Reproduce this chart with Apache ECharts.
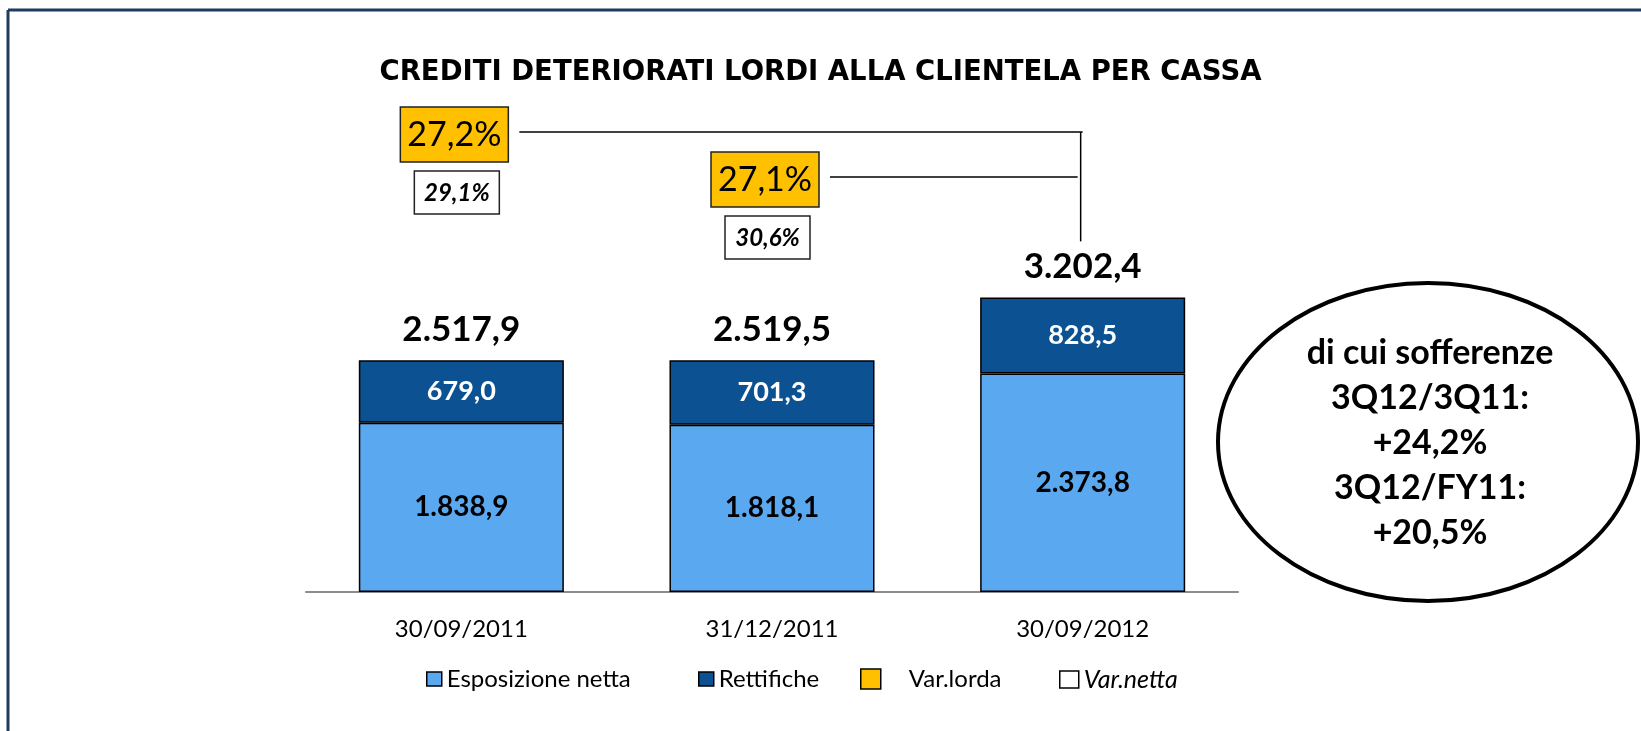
<!DOCTYPE html>
<html>
<head>
<meta charset="UTF-8">
<title>Crediti deteriorati</title>
<script src="https://cdn.jsdelivr.net/npm/echarts@6/dist/echarts.min.js"></script>
<style>
html, body { margin: 0; padding: 0; background: #fff; }
#main { width: 1641px; height: 731px; }
</style>
</head>
<body>
<div id="main"></div>
<script type="text/javascript">
// dati
var categories = ['30/09/2011', '31/12/2011', '30/09/2012'];
var esposizioneNetta = [1838.9, 1818.1, 2373.8];
var rettifiche = [679.0, 701.3, 828.5];
var totali = [2517.9, 2519.5, 3202.4];
var varLorda = ['27,2%', '27,1%'];
var varNetta = ['29,1%', '30,6%'];
var sofferenze = ['di cui sofferenze', '3Q12/3Q11:', '+24,2%', '3Q12/FY11:', '+20,5%'];

var FONT = 'Lato';

// 1838.9 -> "1.838,9"
function fmt(v) {
	var s = v.toFixed(1).split('.');
	var int = s[0].replace(/\B(?=(\d{3})+(?!\d))/g, '.');
	return int + ',' + s[1];
}

var chart = echarts.init(document.getElementById('main'));

var legendBase = {
	orient: 'horizontal',
	top: 667,
	padding: 0,
	icon: 'rect',
	selectedMode: false,
	itemStyle: { borderColor: '#000', borderWidth: 1.5, opacity: 1 },
	textStyle: { fontFamily: FONT, fontSize: 24, color: '#000' }
};

var option = {
	animation: false,
	backgroundColor: '#fff',
	title: {
		text: 'CREDITI DETERIORATI LORDI ALLA CLIENTELA PER CASSA',
		left: 'center',
		top: 54,
		textStyle: { fontFamily: 'DejaVu Sans', fontWeight: 'bold', fontSize: 27.5, color: '#000' }
	},
	legend: [
		Object.assign({}, legendBase, { data: ['Esposizione netta'], left: 426, itemWidth: 15, itemHeight: 14 }),
		Object.assign({}, legendBase, { data: ['Rettifiche'], left: 698, itemWidth: 15, itemHeight: 14 }),
		Object.assign({}, legendBase, { data: ['Var.lorda'], left: 860, itemWidth: 20, itemHeight: 20,
			textStyle: { fontFamily: FONT, fontSize: 24, color: '#000', padding: [0, 0, 0, 23] } }),
		Object.assign({}, legendBase, { data: [{ name: 'Var.netta', textStyle: { fontStyle: 'italic', fontSize: 25 } }], left: 1059, itemWidth: 19, itemHeight: 17 })
	],
	grid: { left: 306, right: 403, top: 224, bottom: 139 },
	xAxis: {
		type: 'category',
		data: categories,
		axisLine: { lineStyle: { color: '#8c8c8c', width: 2 } },
		axisTick: { show: false },
		axisLabel: { margin: 25, fontFamily: FONT, fontSize: 24, color: '#000' }
	},
	yAxis: {
		type: 'value',
		min: 0,
		max: 4000,
		show: false,
		splitLine: { show: false }
	},
	series: [
		{
			name: 'Esposizione netta',
			type: 'bar',
			stack: 'tot',
			barWidth: '66%',
			data: esposizioneNetta,
			itemStyle: { color: '#5AA9F0', borderColor: '#000', borderWidth: 1.5 },
			label: {
				show: true, position: 'inside', formatter: function (p) { return fmt(p.value); },
				fontFamily: FONT, fontWeight: 'bold', fontSize: 28, color: '#000'
			}
		},
		{
			name: 'Rettifiche',
			type: 'bar',
			stack: 'tot',
			barWidth: '66%',
			data: rettifiche,
			itemStyle: { color: '#0C5192', borderColor: '#000', borderWidth: 1.5 },
			label: {
				show: true, position: 'inside', formatter: function (p) { return fmt(p.value); },
				fontFamily: FONT, fontWeight: 'bold', fontSize: 27, color: '#fff'
			}
		},
		{
			name: 'Totale',
			type: 'scatter',
			symbolSize: 0,
			data: totali,
			itemStyle: { opacity: 1 },
			label: {
				show: true, position: 'top', distance: 13,
				formatter: function (p) { return fmt(p.value); },
				fontFamily: FONT, fontWeight: 'bold', fontSize: 35, color: '#000',
				textBorderWidth: 0
			}
		},
		{ name: 'Var.lorda', type: 'scatter', data: [], itemStyle: { color: '#FFC000', borderColor: '#000', borderWidth: 1.5, opacity: 1 } },
		{ name: 'Var.netta', type: 'scatter', data: [], itemStyle: { color: '#fff', borderColor: '#000', borderWidth: 1.5, opacity: 1 } }
	]
};

chart.setOption(option);

// annotazioni: riquadri variazione e connettori verso l'ultima barra
function buildGraphic() {
	var g = [];
	// cornice
	g.push({ type: 'line', shape: { x1: 8, y1: 10, x2: 1641, y2: 10 }, style: { stroke: '#1d3c5e', lineWidth: 3 } });
	g.push({ type: 'line', shape: { x1: 8, y1: 10, x2: 8, y2: 731 }, style: { stroke: '#1d3c5e', lineWidth: 3 } });

	var boxTop = [107, 152];
	var lastX = chart.convertToPixel({ xAxisIndex: 0 }, categories[2]);
	var lastTop = chart.convertToPixel({ xAxisIndex: 0, yAxisIndex: 0 }, [categories[2], totali[2]])[1];
	for (var i = 0; i < varLorda.length; i++) {
		var cx = chart.convertToPixel({ xAxisIndex: 0 }, categories[i]);
		var oy = boxTop[i];
		g.push({
			type: 'rect', shape: { x: cx - 61, y: oy, width: 108, height: 55 },
			style: { fill: '#FFC000', stroke: '#222', lineWidth: 1.5 }
		});
		g.push({
			type: 'text', x: cx - 7, y: oy + 28,
			style: { text: varLorda[i], fill: '#000', font: '34px ' + FONT, align: 'center', verticalAlign: 'middle' }
		});
		g.push({
			type: 'rect', shape: { x: cx - 47, y: oy + 64, width: 85, height: 43 },
			style: { fill: '#fff', stroke: '#222', lineWidth: 1.5 }
		});
		g.push({
			type: 'text', x: cx - 4.5, y: oy + 86,
			style: { text: varNetta[i], fill: '#000', font: 'italic bold 24px ' + FONT, align: 'center', verticalAlign: 'middle' }
		});
		var ly = oy + 25;
		var endX = i === 0 ? lastX : lastX - 5;
		g.push({ type: 'line', shape: { x1: cx + 58, y1: ly, x2: endX, y2: ly }, style: { stroke: '#000', lineWidth: 1.5 } });
		if (i === 0) {
			g.push({ type: 'line', shape: { x1: lastX - 2, y1: ly, x2: lastX - 2, y2: lastTop - 56 }, style: { stroke: '#000', lineWidth: 1.5 } });
		}
	}

	// ellisse sofferenze
	g.push({
		type: 'ellipse', shape: { cx: 1428, cy: 442, rx: 210, ry: 159 },
		style: { fill: '#fff', stroke: '#000', lineWidth: 4 }
	});
	g.push({
		type: 'text', x: 1430, y: 443,
		style: {
			text: sofferenze.join('\n'), fill: '#000', font: 'bold 34px ' + FONT,
			align: 'center', verticalAlign: 'middle', lineHeight: 45
		}
	});
	return g;
}

chart.setOption({ graphic: buildGraphic() });
</script>
</body>
</html>
